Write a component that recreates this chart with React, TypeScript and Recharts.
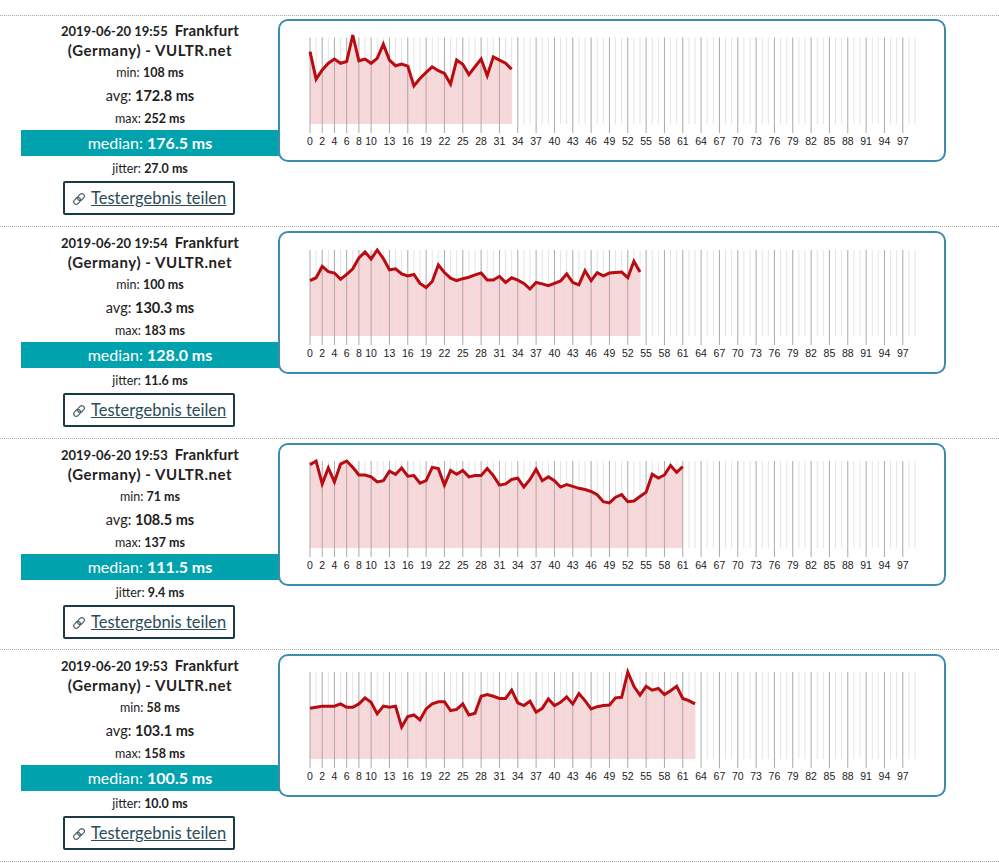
import React from 'react';
import { ComposedChart, Area, Line, XAxis, YAxis, ReferenceLine } from 'recharts';

const tickLabels = [0, 2, 4, 6, 8, 10, 13, 16, 19, 22, 25, 28, 31, 34, 37, 40, 43, 46, 49, 52, 55, 58, 61, 64, 67, 70, 73, 76, 79, 82, 85, 88, 91, 94, 97];
const slots = Array.from({ length: 100 }, (_, i) => i);

const pingA = [205, 127, 153, 172, 184, 172, 177, 252, 179, 184, 172, 186, 226, 181, 165, 170, 164, 108, 129, 146, 162, 151, 143, 113, 181, 169, 140, 162, 184, 137, 190, 181, 172, 155];
const pingB = [118, 124, 148, 137, 134, 121, 131, 143, 166, 179, 164, 183, 165, 141, 143, 132, 128, 131, 112, 103, 116, 151, 135, 123, 118, 122, 125, 130, 134, 119, 119, 127, 114, 124, 119, 112, 100, 114, 111, 107, 112, 117, 132, 114, 109, 139, 118, 135, 128, 134, 135, 136, 124, 159, 136];
const pingC = [131, 137, 101, 126, 104, 132, 137, 127, 115, 115, 112, 104, 106, 121, 116, 126, 113, 114, 102, 106, 127, 125, 99, 122, 116, 122, 112, 114, 114, 125, 114, 99, 101, 108, 110, 96, 108, 124, 106, 112, 106, 96, 100, 97, 94, 92, 89, 84, 73, 71, 80, 84, 73, 74, 81, 88, 116, 110, 115, 130, 119, 128];
const pingD = [92, 94, 96, 96, 96, 100, 94, 94, 100, 111, 103, 82, 96, 94, 96, 58, 77, 80, 71, 91, 100, 104, 104, 88, 90, 100, 80, 83, 114, 117, 114, 110, 110, 125, 102, 97, 105, 85, 92, 109, 97, 103, 113, 100, 119, 106, 91, 95, 97, 98, 111, 112, 158, 132, 116, 132, 125, 128, 117, 124, 132, 110, 106, 100];

const series = [pingA, pingB, pingC, pingD];
const times = ['2019-06-20 19:55', '2019-06-20 19:54', '2019-06-20 19:53', '2019-06-20 19:53'];
const mins = ['108', '100', '71', '58'];
const avgs = ['172.8', '130.3', '108.5', '103.1'];
const maxs = [252, 183, 137, 158];
const medians = ['176.5', '128.0', '111.5', '100.5'];
const jitters = ['27.0', '11.6', '9.4', '10.0'];
// the grid stops a little under the peak in the first chart
const gridTops = [245, 183, 137, 158];

const cardTops = [20, 232, 444, 655];
const plotTops = [15, 18, 17, 17];
const dividers = [15, 226, 438, 649, 861];
const FONT = 'Lato, "Noto Sans", sans-serif';

const centered = (top: number, height: number): React.CSSProperties => ({
  position: 'absolute',
  left: 21,
  width: 258,
  top,
  height,
  lineHeight: `${height}px`,
  textAlign: 'center',
  whiteSpace: 'nowrap',
  color: '#222',
});

const LinkIcon = () => (
  <svg width="14" height="14" viewBox="0 0 14 14" style={{ position: 'absolute', left: 7, top: 9 }}>
    <g fill="none" stroke="#4a6069" strokeWidth="1.2" transform="rotate(-45 7 7)">
      <rect x="0.5" y="4.5" width="7.5" height="5" rx="2.5" />
      <rect x="6" y="4.5" width="7.5" height="5" rx="2.5" />
    </g>
  </svg>
);

const PingChart = ({ values, max, gridTop, plotTop }: { values: number[]; max: number; gridTop: number; plotTop: number }) => {
  const rows = slots.map((i) => ({ i, ping: values[i] }));
  return (
    <ComposedChart width={666} height={141} data={rows} margin={{ top: plotTop, right: 30, bottom: 0, left: 31 }}>
      <XAxis
        dataKey="i"
        type="number"
        domain={[0, 99]}
        ticks={tickLabels}
        interval={0}
        height={37}
        axisLine={false}
        tickSize={9}
        tickMargin={5}
        tickLine={{ stroke: '#aaaaaa' }}
        tick={{ fontSize: 10.5, fontFamily: 'Liberation Sans, Arial, sans-serif', fill: '#222' }}
      />
      <YAxis hide domain={[0, max]} />
      {slots.map((i) => (
        <ReferenceLine
          key={i}
          segment={[{ x: i, y: 0 }, { x: i, y: gridTop }]}
          stroke={tickLabels.includes(i) ? '#aaaaaa' : '#e4e4e4'}
          strokeWidth={1}
        />
      ))}
      <Area dataKey="ping" type="linear" stroke="none" fill="#e0393e" fillOpacity={0.2} isAnimationActive={false} />
      <Line dataKey="ping" type="linear" stroke="#b90b12" strokeWidth={3} dot={false} isAnimationActive={false} />
    </ComposedChart>
  );
};

export default function App() {
  return (
    <div style={{ position: 'absolute', left: 0, top: 0, width: 999, height: 863, overflow: 'hidden', background: '#fff', fontFamily: FONT }}>
      {dividers.map((y) => (
        <div key={y} style={{ position: 'absolute', left: 0, width: 999, top: y, borderTop: '1px dotted #aaa' }} />
      ))}
      {cardTops.map((top, n) => (
        <React.Fragment key={n}>
          <div style={centered(top, 20)}>
            <span style={{ fontSize: 13, fontWeight: 700 }}>{times[n]}</span>
            <span style={{ fontSize: 15, fontWeight: 700, marginLeft: 7, letterSpacing: 0.2 }}>Frankfurt</span>
          </div>
          <div style={{ ...centered(top + 20, 21), fontSize: 15, fontWeight: 700, letterSpacing: 0.55 }}>(Germany) - VULTR.net</div>
          <div style={{ ...centered(top + 44, 18), fontSize: 12.5 }}>min: <b>{mins[n]} ms</b></div>
          <div style={{ ...centered(top + 65, 22), fontSize: 14.5 }}>avg: <b>{avgs[n]} ms</b></div>
          <div style={{ ...centered(top + 90, 18), fontSize: 12.5 }}>max: <b>{maxs[n]} ms</b></div>
          <div style={{ position: 'absolute', left: 21, width: 258, top: top + 110, height: 26, background: '#00a2ae' }} />
          <div style={{ ...centered(top + 110, 26), fontSize: 16, color: '#fff' }}>median: <b>{medians[n]} ms</b></div>
          <div style={{ ...centered(top + 140, 18), fontSize: 12.5 }}>jitter: <b>{jitters[n]} ms</b></div>
          <div
            style={{
              position: 'absolute',
              left: 63,
              top: top + 161,
              width: 172,
              height: 34,
              boxSizing: 'border-box',
              border: '2px solid #1b3a44',
              borderRadius: 2,
            }}
          >
            <LinkIcon />
            <span
              style={{
                position: 'absolute',
                left: 26,
                top: 0,
                lineHeight: '30px',
                fontSize: 16.5,
                color: '#2c4c57',
                textDecoration: 'underline',
                whiteSpace: 'nowrap',
              }}
            >
              Testergebnis teilen
            </span>
          </div>
          <div
            style={{
              position: 'absolute',
              left: 278,
              top: top - 1,
              width: 668,
              height: 143,
              boxSizing: 'border-box',
              border: '2px solid #3c8cb0',
              borderRadius: 10,
              background: '#fff',
            }}
          />
          <div style={{ position: 'absolute', left: 279, top }}>
            <PingChart values={series[n]} max={maxs[n]} gridTop={gridTops[n]} plotTop={plotTops[n]} />
          </div>
        </React.Fragment>
      ))}
    </div>
  );
}
